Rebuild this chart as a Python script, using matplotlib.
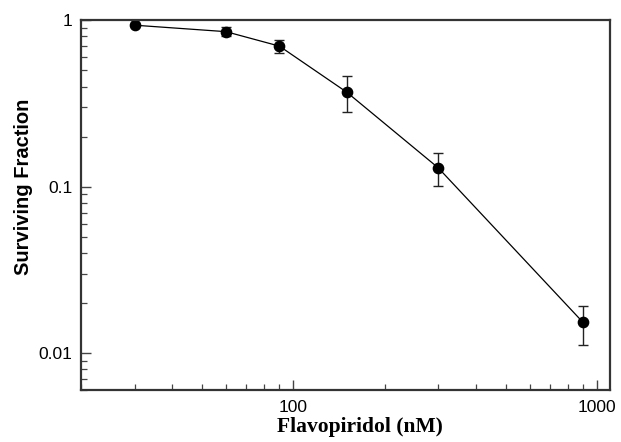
import matplotlib
matplotlib.use("Agg")
import matplotlib.pyplot as plt
from matplotlib.ticker import LogLocator, FixedLocator, NullFormatter, FixedFormatter

dose_nM = [30, 60, 90, 150, 300, 900]
surviving = [0.935, 0.855, 0.70, 0.37, 0.13, 0.0153]
err_low = [0.935, 0.80, 0.634, 0.28, 0.101, 0.0112]
err_high = [0.935, 0.908, 0.766, 0.46, 0.16, 0.0192]

x_ticks = [100, 1000]
x_ticklabels = ["100", "1000"]
y_ticks = [0.01, 0.1, 1]
y_ticklabels = ["0.01", "0.1", "1"]

fig = plt.figure(figsize=(6.21, 4.42), dpi=100)
ax = fig.add_axes([0.1305, 0.1175, 0.851, 0.8365])

yerr = [[s - lo for s, lo in zip(surviving, err_low)],
        [hi - s for s, hi in zip(surviving, err_high)]]
ax.errorbar(dose_nM, surviving, yerr=yerr, fmt='o-', color='black',
            markersize=7.4, linewidth=0.9, elinewidth=1.0, capsize=3.8,
            capthick=1.0, ecolor='#222222')

ax.set_xscale('log')
ax.set_yscale('log')
ax.set_xlim(20, 1100)
ax.set_ylim(0.006, 1)

ax.xaxis.set_major_locator(FixedLocator(x_ticks))
ax.xaxis.set_major_formatter(FixedFormatter(x_ticklabels))
ax.xaxis.set_minor_locator(LogLocator(base=10, subs=range(2, 10)))
ax.xaxis.set_minor_formatter(NullFormatter())
ax.yaxis.set_major_locator(FixedLocator(y_ticks))
ax.yaxis.set_major_formatter(FixedFormatter(y_ticklabels))
ax.yaxis.set_minor_locator(LogLocator(base=10, subs=range(2, 10)))
ax.yaxis.set_minor_formatter(NullFormatter())

ax.tick_params(which='major', direction='in', length=7.5, width=1.0,
               color='#444444', labelsize=12.5, pad=7)
ax.tick_params(which='minor', direction='in', length=4, width=0.9,
               color='#444444')
ax.tick_params(axis='y', which='major', pad=6)
for lab in ax.get_xticklabels() + ax.get_yticklabels():
    lab.set_fontfamily('Liberation Sans')

for sp in ax.spines.values():
    sp.set_linewidth(1.6)
    sp.set_color('#333333')

ax.set_ylabel('Surviving Fraction', fontfamily='Liberation Sans',
              fontweight='bold', fontsize=14.5)
ax.yaxis.set_label_coords(-0.09, 0.55)
ax.set_xlabel('Flavopiridol (nM)', fontfamily='Liberation Serif',
              fontweight='bold', fontsize=15.5)
ax.xaxis.set_label_coords(0.528, -0.074)

fig.savefig('out.png', dpi=100)
